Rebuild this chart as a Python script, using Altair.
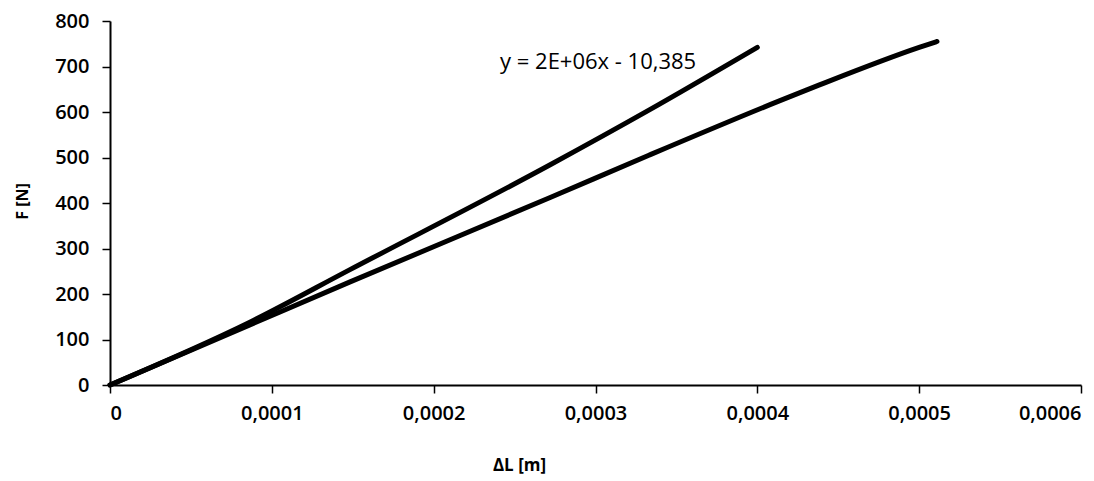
import altair as alt
import pandas as pd

# Series (ΔL in m, F in N)
upper_dl = [0.0, 0.0000864, 0.000148, 0.000272, 0.000333, 0.000400]
upper_f = [0, 138, 253, 484, 604, 742]
lower_dl = [0.0, 0.0000864, 0.000148, 0.000272, 0.000333, 0.000414, 0.000438, 0.000500, 0.000511]
lower_f = [0, 132, 226, 412, 505, 625, 659, 742, 755]

x_ticks = [0, 0.0001, 0.0002, 0.0003, 0.0004, 0.0005, 0.0006]
y_ticks = [0, 100, 200, 300, 400, 500, 600, 700, 800]

eq_text = ["y = 2E+06x - 10,385"]
eq_x = [0.000241]
eq_y = [710]

rows = []
for i, (a, b) in enumerate(zip(upper_dl, upper_f)):
    rows.append({"dl": a, "f": b, "series": "A", "order": i})
for i, (a, b) in enumerate(zip(lower_dl, lower_f)):
    rows.append({"dl": a, "f": b, "series": "B", "order": i})
df = pd.DataFrame(rows)

eq_df = pd.DataFrame({"dl": eq_x, "f": eq_y, "label": eq_text})

FONT = "Open Sans"

xscale = alt.Scale(domain=[0, 0.0006], nice=False, zero=False)
yscale = alt.Scale(domain=[0, 800], nice=False)

x_axis = alt.Axis(
    values=x_ticks,
    labelExpr="datum.value == 0 ? '0' : replace(format(datum.value, '.4f'), '.', ',')",
    grid=False, domainColor="black", domainWidth=2, tickColor="black", tickWidth=1.5,
    tickSize=8, labelPadding=10, labelFontSize=20, labelColor="black", labelFont=FONT,
    labelFontWeight=600,
    title="ΔL [m]", titleFont=FONT, titleFontSize=17, titleFontWeight="bold",
    titleColor="black", titleX=409, titleY=80, titleAnchor="middle",
    titleBaseline="middle", titleAlign="center"
)
y_axis = alt.Axis(
    values=y_ticks, format="d",
    grid=False, domainColor="black", domainWidth=2, tickColor="black", tickWidth=1.5,
    tickSize=8, labelPadding=13, labelFontSize=20, labelColor="black", labelFont=FONT,
    labelFontWeight=600,
    title="F [N]", titleFont=FONT, titleFontSize=16, titleFontWeight="bold",
    titleColor="black", titleX=-88, titleY=180, titleAngle=-90,
    titleBaseline="middle", titleAlign="center"
)

lines = alt.Chart(df).mark_line(
    interpolate="monotone", strokeWidth=5, color="black", strokeCap="round"
).encode(
    x=alt.X("dl:Q", scale=xscale, axis=x_axis),
    y=alt.Y("f:Q", scale=yscale, axis=y_axis),
    detail="series:N",
    order="order:Q",
)

eq = alt.Chart(eq_df).mark_text(
    align="left", baseline="middle", font=FONT, fontSize=22, color="black"
).encode(
    x=alt.X("dl:Q", scale=xscale),
    y=alt.Y("f:Q", scale=yscale),
    text="label:N",
)

chart = (lines + eq).properties(
    width=971, height=364,
    autosize=alt.AutoSizeParams(type="none"),
    padding={"left": 102, "top": 13, "right": 5, "bottom": 90},
    background="white",
).configure_view(stroke=None)

chart.save("out.html", embed_options={"renderer": "svg", "actions": False})
